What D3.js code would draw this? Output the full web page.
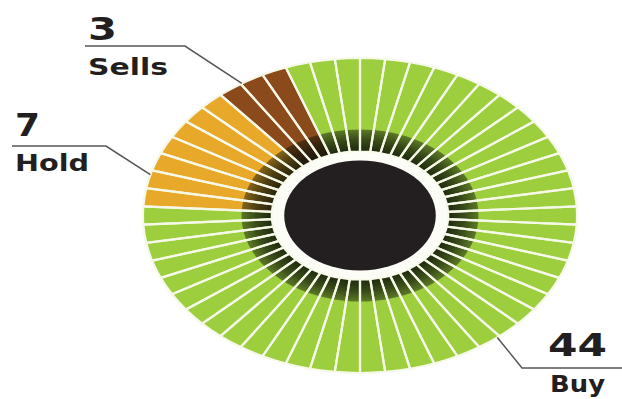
<!DOCTYPE html>
<html><head><meta charset="utf-8">
<script src="https://cdn.jsdelivr.net/npm/d3@7"></script>
<style>html,body{margin:0;padding:0;background:#fff;}svg{display:block;}</style>
</head><body>
<script>
const categories = ["Buy", "Hold", "Sells"];
const counts = [44, 7, 3];
const colors = ["#9dce3e", "#e8a829", "#8a4a1c"];
const labelNames = ["Buy", "Hold", "Sells"];

const W = 622, H = 399;
const cx = 360, cy = 215.5, sx = 1.378;
const rOuter = 157.5, rInner = 64, rDark = 86, rCore = 55;

const svg = d3.select("body").append("svg").attr("width", W).attr("height", H);
const defs = svg.append("defs");
const grad = defs.append("radialGradient").attr("id", "shade")
  .attr("gradientUnits", "userSpaceOnUse").attr("cx", 0).attr("cy", 0).attr("r", rDark);
grad.append("stop").attr("offset", rInner / rDark).attr("stop-color", "#0d1208").attr("stop-opacity", 0.88);
grad.append("stop").attr("offset", 0.88).attr("stop-color", "#0d1208").attr("stop-opacity", 0.7);
grad.append("stop").attr("offset", 1).attr("stop-color", "#0d1208").attr("stop-opacity", 0.45);

const units = categories.flatMap((c, i) => d3.range(counts[i]).map(j => ({cat: c, ci: i, j})));
const deg = Math.PI / 180;
const start = -20 * deg;
const pie = d3.pie().value(1).sort(null).startAngle(start).endAngle(start + 2 * Math.PI);
const arcs = pie(units);

const g = svg.append("g").attr("transform", `translate(${cx},${cy}) scale(${sx},1)`);
const arcOuter = d3.arc().innerRadius(rInner).outerRadius(rOuter);
const arcDark = d3.arc().innerRadius(rInner).outerRadius(rDark);

g.selectAll("path.seg").data(arcs).join("path").attr("class", "seg")
  .attr("d", arcOuter).attr("fill", d => colors[d.data.ci]);
g.selectAll("path.dark").data(arcs).join("path").attr("class", "dark")
  .attr("d", arcDark).attr("fill", "url(#shade)");
g.selectAll("path.sep").data(arcs).join("path").attr("class", "sep")
  .attr("d", arcOuter).attr("fill", "none").attr("stroke", "#f6f8e8")
  .attr("stroke-width", 2.2).attr("vector-effect", "non-scaling-stroke");
g.append("circle").attr("r", rInner - 0.5).attr("fill", "#fdfdf8");
g.append("circle").attr("r", rCore).attr("fill", "#231f20");

function edgePoint(angle) {
  return [cx + Math.sin(angle) * rOuter * sx, cy - Math.cos(angle) * rOuter];
}
const catAngle = (ci, frac) => {
  const segs = arcs.filter(a => a.data.ci === ci);
  const a0 = segs[0].startAngle, a1 = segs[segs.length - 1].endAngle;
  return a0 + (a1 - a0) * frac;
};
const layout = [
  {ci: 2, frac: 0.35, pts: (p) => [[85, 46], [185, 46], p], num: [88, 40, 29, 24], name: [88, 75, 80, 23]},
  {ci: 1, frac: 0.25, pts: (p) => [[12, 146], [106, 146], p], num: [15, 136, 25, 24], name: [15, 171, 74, 23]},
  {ci: 0, frac: 0.548, pts: (p) => [p, [522, 368], [622, 368]], num: [548, 356, 59, 24], name: [550, 392, 55, 23]}
];
layout.forEach(L => {
  const p = edgePoint(catAngle(L.ci, L.frac));
  svg.append("path").attr("d", d3.line()(L.pts(p)))
    .attr("fill", "none").attr("stroke", "#555").attr("stroke-width", 1.5);
  svg.append("text").attr("x", L.num[0]).attr("y", L.num[1])
    .attr("textLength", L.num[2]).attr("lengthAdjust", "spacingAndGlyphs")
    .style("font-family", "DejaVu Sans, sans-serif").style("font-weight", "bold")
    .style("font-size", L.num[3] * 1.3 + "px").attr("fill", "#231f20").text(counts[L.ci]);
  svg.append("text").attr("x", L.name[0]).attr("y", L.name[1])
    .attr("textLength", L.name[2]).attr("lengthAdjust", "spacingAndGlyphs")
    .style("font-family", "DejaVu Sans, sans-serif").style("font-weight", "bold")
    .style("font-size", L.name[3] + "px").attr("fill", "#231f20").text(labelNames[L.ci]);
});
</script>
</body></html>
